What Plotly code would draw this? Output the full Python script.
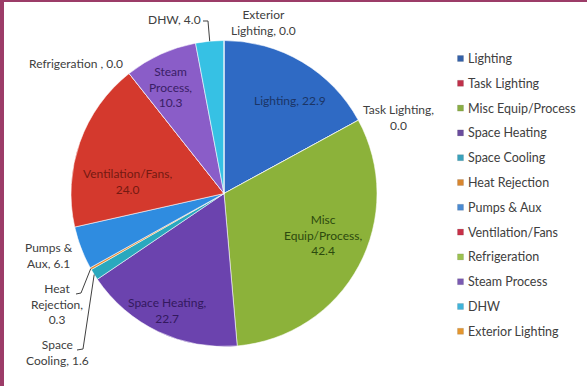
import math
import plotly.graph_objects as go

# ---- data -------------------------------------------------------------
categories = ["Lighting", "Task Lighting", "Misc Equip/Process", "Space Heating",
              "Space Cooling", "Heat Rejection", "Pumps & Aux", "Ventilation/Fans",
              "Refrigeration", "Steam Process", "DHW", "Exterior Lighting"]
energy_use = [22.9, 0.0, 42.4, 22.7, 1.6, 0.3, 6.1, 24.0, 0.0, 10.3, 4.0, 0.0]

# how each data label is broken into lines ({v} is the value)
label_formats = ["Lighting, {v}", "Task Lighting,<br>{v}", "Misc<br>Equip/Process,<br>{v}",
                 "Space Heating,<br>{v}", "Space<br>Cooling, {v}", "Heat<br>Rejection,<br>{v}",
                 "Pumps &<br>Aux, {v}", "Ventilation/Fans,<br>{v}", "Refrigeration , {v}",
                 "Steam<br>Process,<br>{v}", "DHW, {v}", "Exterior<br>Lighting, {v}"]

# ---- styling ----------------------------------------------------------
slice_colors = ["#2F6AC4", "#C8323A", "#8CB23A", "#6B43AE", "#2AA8BE", "#E8882C",
                "#2F8CE0", "#D4392D", "#9CC24C", "#8A5DC8", "#36C1E4", "#F0A030"]
legend_colors = ["#3461A8", "#C0304A", "#8AAE44", "#6A4C9E", "#3AA2BC", "#D8862E",
                 "#4A8AD2", "#C83048", "#9CC250", "#7A5AB2", "#40B4DA", "#E4962E"]
inside_text_colors = {"Lighting": "#1B3566", "Misc Equip/Process": "#2C4A0E",
                      "Space Heating": "#33195E", "Ventilation/Fans": "#741A12",
                      "Steam Process": "#3A1E66"}
OUT_TEXT = "#404040"
FONT = "Lato"

W, H = 587, 386
PIE_BOX = (71, 40, 377, 347)          # left, top, right, bottom in px
CX = (PIE_BOX[0] + PIE_BOX[2]) / 2
CY = (PIE_BOX[1] + PIE_BOX[3]) / 2
R = (PIE_BOX[2] - PIE_BOX[0]) / 2

# label anchor (centre) positions in px
label_pos = {
    "Lighting": (290, 100), "Task Lighting": (398, 118), "Misc Equip/Process": (323, 235),
    "Space Heating": (167, 310), "Space Cooling": (57, 352), "Heat Rejection": (57, 304),
    "Pumps & Aux": (49, 255), "Ventilation/Fans": (127, 181), "Refrigeration": (76, 63),
    "Steam Process": (170, 87), "DHW": (174, 20), "Exterior Lighting": (263, 23),
}

# legend block geometry (px)
LEG_SQ_X, LEG_TXT_X, LEG_Y0, LEG_STEP, LEG_SQ = 460.5, 465.5, 58.5, 24.8, 6


def to_paper(px, py):
    return px / W, 1 - py / H


# mid angle of each slice (degrees clockwise from 12 o'clock)
total = sum(energy_use)
mid_angle = {}
acc = 0.0
for name, v in zip(categories, energy_use):
    mid_angle[name] = (acc + v / 2) / total * 360
    acc += v


def rim_point(name):
    a = math.radians(mid_angle[name])
    return CX + R * math.sin(a), CY - R * math.cos(a)


fig = go.Figure()

x0, y1 = to_paper(PIE_BOX[0], PIE_BOX[1])
x1, y0 = to_paper(PIE_BOX[2], PIE_BOX[3])
fig.add_trace(go.Pie(
    labels=categories, values=energy_use, sort=False, direction="clockwise",
    rotation=0, textinfo="none", hoverinfo="label+value",
    marker=dict(colors=slice_colors, line=dict(color="rgba(255,255,255,0.55)", width=1)),
    domain=dict(x=[x0, x1], y=[y0, y1]), showlegend=False,
))

annotations = []
shapes = []

# data labels
for name, v, fmt in zip(categories, energy_use, label_formats):
    px, py = label_pos[name]
    xp, yp = to_paper(px, py)
    color = inside_text_colors.get(name, OUT_TEXT)
    annotations.append(dict(
        x=xp, y=yp, xref="paper", yref="paper", showarrow=False,
        text=fmt.format(v=f"{v:.1f}"), align="center",
        font=dict(family=FONT, size=12, color=color),
        xanchor="center", yanchor="middle",
    ))

# legend: a small square and the category name per row
for i, (name, col) in enumerate(zip(categories, legend_colors)):
    yc = LEG_Y0 + i * LEG_STEP
    sx0, sy0 = to_paper(LEG_SQ_X - LEG_SQ / 2, yc + LEG_SQ / 2)
    sx1, sy1 = to_paper(LEG_SQ_X + LEG_SQ / 2, yc - LEG_SQ / 2)
    shapes.append(dict(type="rect", xref="paper", yref="paper", x0=sx0, x1=sx1, y0=sy0, y1=sy1,
                       fillcolor=col, line=dict(color="rgba(0,0,0,0.2)", width=0.5)))
    tx, ty = to_paper(LEG_TXT_X, yc)
    annotations.append(dict(
        x=tx, y=ty, xref="paper", yref="paper", showarrow=False, text=name,
        font=dict(family=FONT, size=12.5, color=OUT_TEXT),
        xanchor="left", yanchor="middle", align="left",
    ))

# leader lines for the small slices
leaders = {
    "DHW": [(203, 21), (208, 21)],
    "Heat Rejection": [(76, 294), (81, 293)],
    "Space Cooling": [(77, 350), (83, 349)],
}
for name, pts in leaders.items():
    pts = pts + [rim_point(name)]
    path = ""
    for k, (px, py) in enumerate(pts):
        xp, yp = to_paper(px, py)
        path += ("M" if k == 0 else "L") + f"{xp:.5f},{yp:.5f} "
    shapes.append(dict(type="path", xref="paper", yref="paper", path=path.strip(),
                       line=dict(color=OUT_TEXT, width=1)))

# frame on the left and top edges
FRAME = "#9C3C68"
shapes.append(dict(type="rect", xref="paper", yref="paper", x0=0, x1=4 / W, y0=0, y1=1,
                   fillcolor=FRAME, line=dict(width=0), layer="above"))
shapes.append(dict(type="rect", xref="paper", yref="paper", x0=0, x1=1, y0=1 - 2 / H, y1=1,
                   fillcolor=FRAME, line=dict(width=0), layer="above"))

fig.update_layout(
    width=W, height=H, margin=dict(l=0, r=0, t=0, b=0),
    paper_bgcolor="white", plot_bgcolor="white",
    annotations=annotations, shapes=shapes, showlegend=False,
)

fig.write_html("out.html")
